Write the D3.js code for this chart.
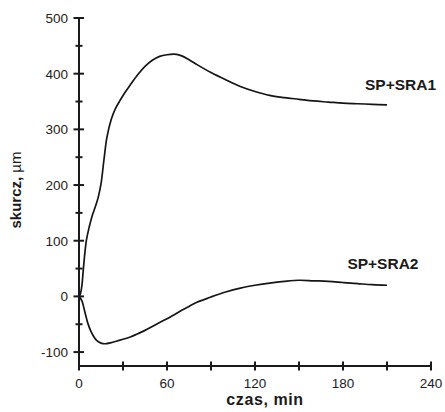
<!DOCTYPE html>
<html>
<head>
<meta charset="utf-8">
<script src="https://cdn.jsdelivr.net/npm/d3@7"></script>
<style>
  body { margin: 0; background: #fff; }
  svg text { font-family: "Liberation Sans", Arial, sans-serif; }
</style>
</head>
<body>
<div id="plot"></div>
<script>
// values (time in min, shrinkage in µm)
let t1 = [0, 1, 2, 3, 5, 7, 9, 11, 13, 15, 17, 19, 22, 25, 28, 31, 35, 40, 45, 50, 55, 60, 65, 70, 75, 80, 90, 100, 110, 120, 130, 140, 150, 160, 170, 180, 190, 200, 210];
let v1 = [0, 5, 20, 50, 100, 125, 145, 160, 177, 202, 245, 285, 318, 338, 352, 365, 380, 398, 413, 424, 431, 434, 435, 432, 425, 417, 402, 389, 377, 368, 361, 357, 354, 351, 349, 347, 346, 345, 344];
let t2 = [0, 2, 4, 6, 8, 10, 12, 15, 18, 22, 26, 30, 35, 40, 45, 50, 55, 60, 65, 70, 75, 80, 85, 90, 100, 110, 120, 130, 140, 150, 160, 170, 180, 190, 200, 210];
let v2 = [0, -8, -28, -48, -62, -72, -79, -84, -85, -83, -80, -77, -73, -67, -61, -54, -47, -40, -33, -25, -18, -11, -6, -1, 8, 15, 20, 24, 27, 29, 28, 27, 25, 23, 21, 20];
let seriesNames = ['SP+SRA1', 'SP+SRA2'];
let xTicks = [0, 30, 60, 90, 120, 150, 180, 210, 240];
let xLabels = [0, 60, 120, 180, 240];
let yTicks = [-100, 0, 100, 200, 300, 400, 500];
let yMinor = [-50, 50, 150, 250, 350, 450];

let svgWidth = 445;
let svgHeight = 412;
let margin = { top: 18, right: 14, bottom: 46, left: 79 };
let width = svgWidth - margin.left - margin.right;
let height = svgHeight - margin.top - margin.bottom;

let x = d3.scaleLinear().domain([0, 240]).range([0, width]);
let y = d3.scaleLinear().domain([-125, 500]).range([height, 0]);

let svg = d3.select('#plot').append('svg')
    .attr('width', svgWidth)
    .attr('height', svgHeight);

let chart = svg.append('g')
    .attr('transform', `translate(${margin.left},${margin.top})`);

let line = d3.line()
    .x(d => x(d[0]))
    .y(d => y(d[1]))
    .curve(d3.curveCatmullRom.alpha(0.5));

let s1 = t1.map((t, i) => [t, v1[i]]);
let s2 = t2.map((t, i) => [t, v2[i]]);

[s1, s2].forEach(function (s) {
    chart.append('path')
        .datum(s)
        .attr('d', line)
        .attr('fill', 'none')
        .attr('stroke', '#151515')
        .attr('stroke-width', 1.7);
});

let axisCol = '#1a1a1a';

// axes
chart.append('path')
    .attr('d', `M0,${y(500)}V${height}H${x(240)}`)
    .attr('fill', 'none')
    .attr('stroke', axisCol).attr('stroke-width', 2);

chart.append('g').selectAll('path').data(xTicks).enter().append('path')
    .attr('d', d => `M${x(d)},${height - 4.5}V${height + 4.5}`)
    .attr('stroke', axisCol).attr('stroke-width', 2);
chart.append('g').selectAll('path').data(yTicks).enter().append('path')
    .attr('d', d => `M-5.5,${y(d)}H5`)
    .attr('stroke', axisCol).attr('stroke-width', 2);
chart.append('g').selectAll('path').data(yMinor).enter().append('path')
    .attr('d', d => `M-3.5,${y(d)}H3.5`)
    .attr('stroke', axisCol).attr('stroke-width', 2);

chart.append('g').selectAll('text').data(xLabels).enter().append('text')
    .attr('x', d => x(d))
    .attr('y', height + 22)
    .attr('text-anchor', 'middle')
    .attr('font-size', 13.5)
    .attr('fill', '#222')
    .text(d => d);
chart.append('g').selectAll('text').data(yTicks).enter().append('text')
    .attr('x', -11)
    .attr('y', d => y(d) + 5)
    .attr('text-anchor', 'end')
    .attr('font-size', 13.5)
    .attr('fill', '#222')
    .text(d => d);

// series labels
chart.append('text')
    .attr('x', x(195)).attr('y', y(370))
    .attr('font-size', 15.5).attr('font-weight', 'bold').attr('fill', '#1a1a1a')
    .text(seriesNames[0]);
chart.append('text')
    .attr('x', x(183)).attr('y', y(50))
    .attr('font-size', 15.5).attr('font-weight', 'bold').attr('fill', '#1a1a1a')
    .text(seriesNames[1]);

// axis titles
svg.append('text')
    .attr('x', 265).attr('y', 405)
    .attr('text-anchor', 'middle')
    .attr('font-size', 16).attr('font-weight', 'bold').attr('fill', '#1a1a1a')
    .attr('letter-spacing', 0.6)
    .text('czas, min');

let yt = svg.append('text')
    .attr('transform', 'translate(21,190) rotate(-90)')
    .attr('text-anchor', 'middle')
    .attr('font-size', 15).attr('fill', '#1a1a1a');
yt.append('tspan').attr('font-weight', 'bold').text('skurcz, ');
yt.append('tspan').text('µm');
</script>
</body>
</html>
